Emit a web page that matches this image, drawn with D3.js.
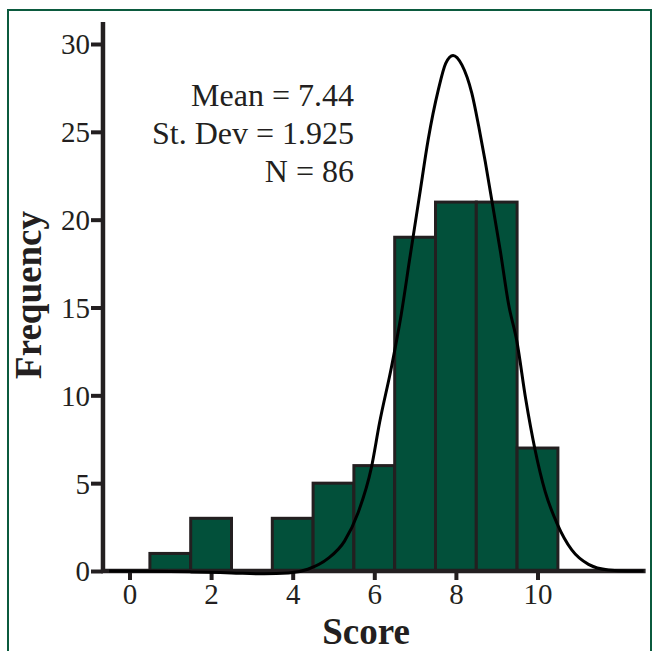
<!DOCTYPE html>
<html>
<head>
<meta charset="utf-8">
<script src="https://cdn.jsdelivr.net/npm/d3@7"></script>
<style>
  html, body { margin: 0; padding: 0; background: #fff; }
  svg { display: block; font-family: "Liberation Serif", "Times New Roman", serif; }
</style>
</head>
<body>
<svg id="chart" width="654" height="651"></svg>
<script>
// histogram bins (centre of each bin) and counts
const binCenters = [1, 2, 3, 4, 5, 6, 7, 8, 9, 10];
const binCounts  = [1, 3, 0, 3, 5, 6, 19, 21, 21, 7];

// fitted curve
const curveX = [-0.5, 0.5, 1.5, 2.5, 3.3, 3.9, 4.37, 4.86, 5.27, 5.6, 5.93, 6.13, 6.42, 6.66, 6.87, 7.11, 7.32, 7.57, 7.75, 7.93,
                8.15, 8.39, 8.56, 8.72, 8.88, 9.09, 9.29, 9.5, 9.71, 9.94, 10.19, 10.48, 10.84, 11.25, 11.74, 12.2, 12.6];
const curveY = [0, -0.01, -0.05, -0.11, -0.16, -0.12, 0.1, 0.7, 1.7, 3.3, 5.9, 8.45, 11.6, 14.6, 17.8, 21.4, 24.55, 27.4, 28.9, 29.35,
                28.8, 27.2, 25.3, 23.3, 21.1, 18.2, 15.2, 13.0, 9.8, 6.9, 4.5, 2.7, 1.2, 0.38, 0.06, 0, 0];

const xTicks = [0, 2, 4, 6, 8, 10];
const yTicks = [0, 5, 10, 15, 20, 25, 30];
const statLines = ["Mean = 7.44", "St. Dev = 1.925", "N = 86"];

const ink = "#231f20";
const barFill = "#02503a";

const svg = d3.select("#chart");

// frame around the figure
svg.append("rect")
    .attr("x", 8).attr("y", 10)
    .attr("width", 643).attr("height", 700)
    .attr("fill", "none")
    .attr("stroke", "#0b5a3e")
    .attr("stroke-width", 2);

const x = d3.scaleLinear().domain([0, 10]).range([129.5, 537.5]);
const y = d3.scaleLinear().domain([0, 30]).range([571, 44]);

const xMin = -0.65, xMax = 12.65, yTop = 31.25;

// bars
svg.append("g")
    .selectAll("rect")
    .data(binCenters)
    .enter().append("rect")
    .attr("x", d => x(d - 0.5))
    .attr("width", d => x(d + 0.5) - x(d - 0.5))
    .attr("y", (d, i) => y(binCounts[i]))
    .attr("height", (d, i) => y(0) - y(binCounts[i]))
    .attr("fill", barFill)
    .attr("stroke", ink)
    .attr("stroke-width", 3)
    .attr("display", (d, i) => binCounts[i] > 0 ? null : "none");

// axes: ticks + labels from d3, lines drawn separately
const yAxis = svg.append("g")
    .attr("transform", `translate(${x(xMin)},0)`)
    .call(d3.axisLeft(y).tickValues(yTicks).tickSize(12).tickPadding(1));

const xAxis = svg.append("g")
    .attr("transform", `translate(0,${y(0)})`)
    .call(d3.axisBottom(x).tickValues(xTicks).tickSize(9).tickPadding(2));

[xAxis, yAxis].forEach(g => {
    g.select(".domain").remove();
    g.selectAll(".tick line").attr("stroke", ink).attr("stroke-width", 4);
    g.selectAll(".tick text")
        .attr("fill", ink)
        .style("font-size", "29px")
        .style("font-family", "Liberation Serif, Times New Roman, serif");
});
xAxis.selectAll(".tick text").attr("y", 33).attr("dy", 0);
yAxis.selectAll(".tick text").attr("dy", "0.34em");

svg.append("line")
    .attr("x1", x(xMin)).attr("x2", x(xMin))
    .attr("y1", y(yTop)).attr("y2", y(0) + 2)
    .attr("stroke", ink).attr("stroke-width", 4.5);

svg.append("line")
    .attr("x1", x(xMin) - 2).attr("x2", x(xMax))
    .attr("y1", y(0)).attr("y2", y(0))
    .attr("stroke", ink).attr("stroke-width", 4.5);

// fitted curve
const line = d3.line()
    .x((d, i) => x(curveX[i]))
    .y(d => y(d))
    .curve(d3.curveMonotoneX);

svg.append("path")
    .datum(curveY)
    .attr("d", line)
    .attr("fill", "none")
    .attr("stroke", "#000")
    .attr("stroke-width", 3);

// summary text
svg.append("g")
    .selectAll("text")
    .data(statLines)
    .enter().append("text")
    .attr("x", 354)
    .attr("y", (d, i) => 106 + i * 38)
    .attr("text-anchor", "end")
    .attr("fill", ink)
    .style("font-size", "32px")
    .text(d => d);

// axis titles
svg.append("text")
    .attr("x", 366).attr("y", 644)
    .attr("text-anchor", "middle")
    .attr("fill", ink)
    .style("font-size", "37px")
    .style("font-weight", "bold")
    .text("Score");

svg.append("text")
    .attr("transform", "translate(41,295) rotate(-90)")
    .attr("text-anchor", "middle")
    .attr("fill", ink)
    .style("font-size", "37px")
    .style("font-weight", "bold")
    .text("Frequency");
</script>
</body>
</html>
